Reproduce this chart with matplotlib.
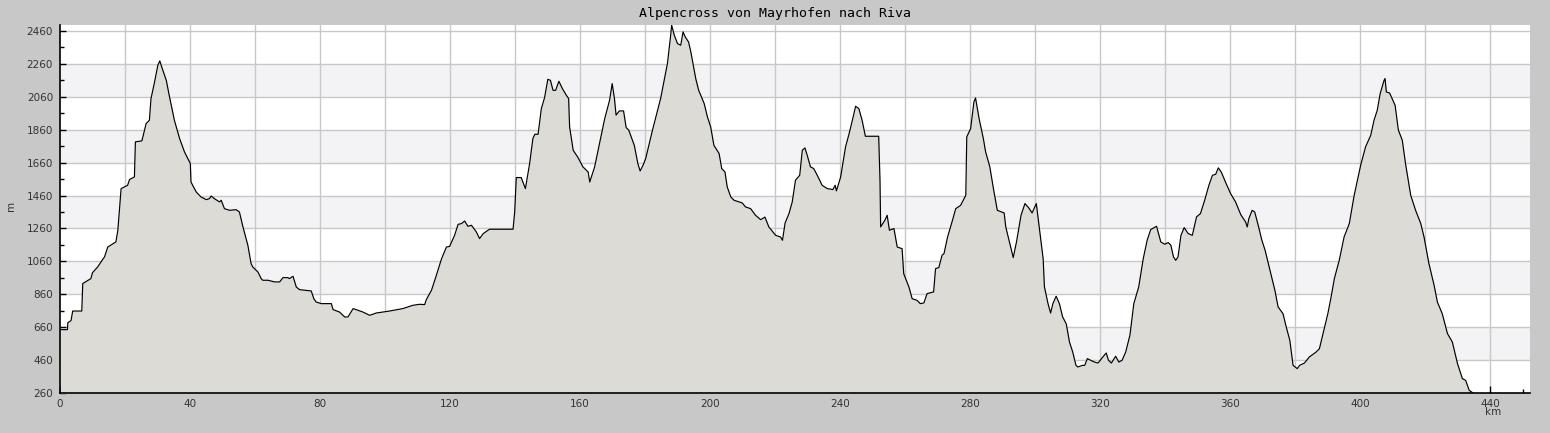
import matplotlib
matplotlib.use("Agg")
import matplotlib.pyplot as plt
from matplotlib.ticker import FuncFormatter

title = "Alpencross von Mayrhofen nach Riva"

km = [0, 2.3, 2.4, 3.4, 3.9, 6.7, 7.0, 9.5, 10.0, 11.6, 12.6, 13.7, 14.7, 17.2, 17.8, 18.8,
      20.8, 21.4, 22.9, 23.2, 25.2, 26.5, 27.5, 28.0, 29.0, 30.1, 30.7, 31.3, 32.7, 33.7,
      35.2, 36.8, 38.3, 40.1, 40.3, 41.9, 43.4, 45.0, 46.0, 46.5, 47.5, 49.1, 49.6, 50.6,
      52.2, 54.2, 55.2, 56.3, 57.8, 58.8, 59.3, 60.9, 61.9, 62.4, 64.0, 66.0, 67.6, 68.6,
      70.1, 70.6, 71.7, 72.7, 73.7, 77.3, 78.1, 78.8, 80.4, 83.5, 84.0, 86.0, 87.6, 88.6,
      90.2, 93.2, 95.3, 97.3, 101.4, 105.5, 108.6, 110.7, 112.2, 112.7, 114.3, 115.8,
      117.4, 118.9, 119.9, 121.4, 122.5, 123.5, 124.5, 125.5, 126.6, 128.1, 129.1, 130.2,
      131.7, 132.2, 139.4, 139.9, 140.4, 141.9, 143.2, 144.5, 145.5, 146.1, 147.1, 148.1,
      149.1, 150.1, 150.9, 151.7, 152.5, 153.5, 154.6, 155.8, 156.5, 156.8, 157.9, 159.4,
      160.9, 162.5, 163.0, 164.5, 166.0, 167.6, 169.1, 169.9, 170.6, 171.1, 172.1, 173.4,
      174.2, 175.0, 176.7, 177.8, 178.5, 179.4, 180.2, 182.3, 184.8, 186.9, 187.9, 188.2,
      189.0, 190.0, 191.0, 191.7, 192.4, 193.4, 194.1, 195.6, 196.5, 198.2, 199.2, 200.2,
      201.2, 202.8, 203.6, 204.6, 205.3, 206.4, 207.4, 209.9, 210.9, 212.5, 214.0, 215.6,
      216.9, 218.1, 220.2, 221.7, 222.3, 223.1, 224.3, 225.3, 226.3, 227.6, 228.4, 229.2,
      229.9, 230.9, 231.9, 233.0, 234.5, 236.1, 237.8, 238.5, 238.9, 240.2, 241.7, 242.8,
      243.8, 244.8, 245.8, 246.8, 247.8, 251.9, 252.3, 252.5, 253.8, 254.5, 255.2, 256.6,
      257.6, 259.1, 259.6, 261.2, 262.2, 263.7, 264.7, 265.8, 266.8, 268.8, 269.4, 270.4,
      271.4, 272.0, 273.1, 274.6, 275.6, 277.1, 278.7, 279.0, 280.2, 281.2, 281.7, 282.8,
      284.1, 284.8, 286.1, 287.2, 288.4, 290.5, 291.0, 292.0, 293.3, 294.3, 295.7, 296.9,
      298.1, 299.1, 300.4, 301.4, 302.5, 302.9, 304.0, 304.8, 305.5, 306.5, 307.5, 308.5,
      309.6, 310.6, 311.6, 312.6, 313.2, 314.6, 315.3, 316.1, 317.1, 318.3, 319.4, 320.7,
      321.9, 322.6, 323.5, 324.8, 325.8, 326.8, 327.9, 329.2, 330.4, 331.9, 333.3, 334.5,
      335.6, 337.4, 338.7, 339.9, 341.0, 341.8, 342.6, 343.3, 344.0, 344.9, 345.9, 347.1,
      348.4, 349.7, 350.9, 352.2, 353.5, 354.6, 355.6, 356.4, 357.3, 358.6, 360.2, 361.7,
      363.3, 364.8, 365.3, 365.8, 366.8, 367.6, 368.8, 369.8, 370.8, 372.3, 373.8, 374.8,
      376.3, 377.3, 378.4, 379.4, 380.7, 381.4, 382.9, 384.4, 386.5, 387.5, 388.5, 390.1,
      391.1, 392.1, 393.6, 395.1, 396.7, 398.2, 400.2, 401.7, 403.3, 404.3, 405.3, 406.2,
      407.4, 407.7, 408.1, 409.1, 410.8, 411.8, 413.0, 414.0, 415.6, 417.1, 418.7, 419.7,
      421.2, 422.8, 423.8, 425.3, 426.9, 428.4, 430.0, 431.5, 432.5, 433.6, 434.8, 436.0]

elev = [645, 645, 687, 700, 758, 758, 925, 955, 991, 1026, 1056, 1087, 1147, 1178, 1249, 1502,
        1522, 1557, 1573, 1786, 1792, 1897, 1917, 2049, 2140, 2251, 2278, 2241, 2160, 2059,
        1917, 1806, 1725, 1654, 1542, 1482, 1451, 1435, 1441, 1457, 1441, 1421, 1431, 1380,
        1370, 1374, 1360, 1269, 1158, 1046, 1026, 995, 955, 945, 945, 935, 935, 961,
        961, 955, 969, 904, 888, 880, 833, 813, 803, 803, 767, 752, 722, 722,
        773, 752, 732, 746, 758, 773, 793, 799, 797, 827, 884, 975,
        1076, 1147, 1151, 1218, 1285, 1289, 1305, 1273, 1279, 1239, 1198, 1228,
        1249, 1255, 1255, 1360, 1569, 1569, 1502, 1654, 1806, 1832, 1832, 1988,
        2055, 2166, 2160, 2099, 2099, 2154, 2109, 2069, 2049, 1877, 1735, 1690,
        1634, 1603, 1542, 1634, 1775, 1927, 2039, 2140, 2049, 1948, 1974, 1974,
        1873, 1857, 1765, 1654, 1609, 1644, 1684, 1857, 2049, 2262, 2434, 2495,
        2434, 2383, 2373, 2454, 2423, 2393, 2333, 2171, 2100, 2019, 1938, 1877,
        1765, 1715, 1624, 1603, 1512, 1451, 1431, 1415, 1391, 1380, 1340, 1313,
        1329, 1269, 1218, 1208, 1188, 1293, 1350, 1421, 1553, 1583, 1735, 1749,
        1705, 1634, 1624, 1583, 1522, 1502, 1496, 1522, 1488, 1573, 1755, 1836,
        1917, 2002, 1988, 1917, 1820, 1820, 1553, 1269, 1309, 1340, 1249, 1259,
        1147, 1137, 985, 904, 833, 823, 803, 807, 864, 874, 1016, 1022,
        1097, 1107, 1208, 1309, 1380, 1400, 1461, 1816, 1867, 2029, 2053, 1927,
        1806, 1725, 1634, 1502, 1370, 1354, 1269, 1188, 1083, 1178, 1340, 1411,
        1384, 1354, 1411, 1249, 1076, 904, 803, 746, 803, 848, 803, 722,
        681, 570, 509, 428, 418, 428, 428, 469, 459, 448, 442, 475,
        503, 459, 442, 483, 448, 459, 509, 611, 803, 904, 1076, 1188,
        1253, 1273, 1178, 1164, 1174, 1158, 1087, 1066, 1087, 1218, 1265, 1229,
        1218, 1330, 1350, 1431, 1522, 1583, 1589, 1628, 1603, 1542, 1471, 1421,
        1344, 1299, 1269, 1320, 1370, 1360, 1269, 1188, 1127, 1006, 884, 783,
        742, 661, 580, 428, 408, 428, 442, 479, 509, 529, 611, 742,
        843, 955, 1066, 1208, 1289, 1461, 1644, 1755, 1826, 1917, 1978, 2079,
        2160, 2171, 2089, 2083, 2008, 1857, 1796, 1654, 1461, 1370, 1289, 1208,
        1046, 914, 813, 742, 621, 570, 438, 347, 337, 276, 260, 200]

y_ticks = list(range(260, 2461, 200))
x_ticks = list(range(0, 452, 20))

bg = "#c8c8c8"
fig = plt.figure(figsize=(15.5, 4.33), dpi=100, facecolor=bg)
ax = fig.add_axes([60/1550, 40/433, 1470/1550, 368/433])
ax.set_facecolor("white")

ymin, ymax = 260, 2496
xmin, xmax = 0, 452.3
ax.set_xlim(xmin, xmax)
ax.set_ylim(ymin, ymax)

# alternating bands
for i, y0 in enumerate(y_ticks[:-1]):
    if i % 2 == 1:
        ax.axhspan(y0, y0 + 200, color="#f3f2f5", zorder=0, lw=0)

for y in y_ticks:
    ax.axhline(y, color="#c8c8c8", lw=1, zorder=1)
for x in range(20, 452, 20):
    ax.axvline(x, color="#c8c8c8", lw=1, zorder=1)

ax.fill_between(km, elev, ymin - 100, color="#dcdbd6", zorder=2, lw=0)
ax.plot(km, elev, color="black", lw=0.85, zorder=3)

for s in ["top", "right"]:
    ax.spines[s].set_visible(False)
for s in ["left", "bottom"]:
    ax.spines[s].set_color("black")
    ax.spines[s].set_linewidth(1.2)
    ax.spines[s].set_zorder(5)

ax.set_yticks(y_ticks)
ax.set_yticks(list(range(360, 2461, 200)), minor=True)
ax.set_xticks(x_ticks)
ax.xaxis.set_major_formatter(FuncFormatter(lambda v, p: f"{int(round(v))}" if int(round(v)) % 40 == 0 else ""))
ax.set_xticks(list(range(10, 452, 20)), minor=True)
ax.tick_params(axis="both", which="major", direction="in", length=5, width=1,
               labelsize=7.5, labelcolor="#333333", color="black", pad=4)
ax.tick_params(axis="both", which="minor", direction="in", length=3, width=1, color="black")
ax.tick_params(axis="y", which="major", length=4, pad=5)

fig.text(775/1550, 1 - 14/433, title, ha="center", va="center",
         family="DejaVu Sans Mono", fontsize=9.5, color="black")
fig.text(1493/1550, 1 - 412/433, "km", ha="center", va="center", fontsize=7.5, color="#333333")
fig.text(11/1550, 1 - 206/433, "m", ha="center", va="center", rotation=90, fontsize=7.5, color="#333333")

fig.savefig("out.png", dpi=100, facecolor=bg)
